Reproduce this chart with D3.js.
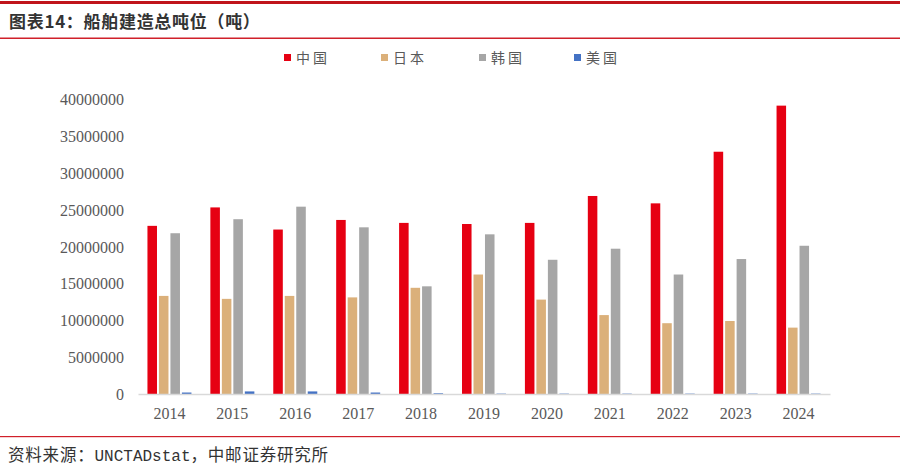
<!DOCTYPE html>
<html><head><meta charset="utf-8">
<script src="https://cdn.jsdelivr.net/npm/d3@7"></script>
<style>body{margin:0;background:#fff;}svg{display:block;}</style>
</head><body>
<svg id="chart" width="900" height="472"></svg>
<script>
const years = ["2014","2015","2016","2017","2018","2019","2020","2021","2022","2023","2024"];
const seriesNames = ["中国","日本","韩国","美国"];
const china = [22800000,25300000,22300000,23600000,23200000,23050000,23200000,26850000,25850000,32850000,39100000];
const japan = [13300000,12900000,13300000,13100000,14400000,16200000,12800000,10700000,9600000,9900000,9000000];
const korea = [21800000,23700000,25400000,22600000,14600000,21650000,18200000,19700000,16200000,18300000,20100000];
const usa = [200000,350000,350000,200000,100000,50000,50000,50000,50000,50000,50000];
const yTicks = [0,5000000,10000000,15000000,20000000,25000000,30000000,35000000,40000000];
const colors = ["#e60012","#dbb07a","#a6a6a6","#4472c4"];
const titleText = "图表14：船舶建造总吨位（吨）";
const sourceParts = [["资料来源：","cjk"],["UNCTADstat","mono"],["，中邮证券研究所","cjk"]];

const allSeries = [china, japan, korea, usa];
const svg = d3.select("#chart");

// header / footer rules
svg.append("rect").attr("x",0).attr("y",1).attr("width",900).attr("height",3).attr("fill","#c0141b");
svg.append("rect").attr("x",0).attr("y",37.5).attr("width",900).attr("height",1.5).attr("fill","#d0202a");
svg.append("rect").attr("x",0).attr("y",436).attr("width",900).attr("height",1.2).attr("fill","#d0202a");

svg.append("text").attr("x",9).attr("y",28).attr("font-family","'Noto Sans CJK SC'")
  .attr("font-size",17).attr("letter-spacing","0.7px").attr("font-weight","bold").attr("fill","#333").text(titleText);
const src = svg.append("text").attr("x",8).attr("y",461).attr("fill","#333");
src.selectAll("tspan").data(sourceParts).join("tspan")
  .attr("font-family", d => d[1]==="mono" ? "'Liberation Mono'" : "'Noto Sans CJK SC'")
  .attr("font-size", d => d[1]==="mono" ? 16 : 16.5)
  .attr("letter-spacing", d => d[1]==="mono" ? "0px" : "0.8px")
  .text(d => d[0]);

const x0 = d3.scaleBand().domain(years).range([138,830]).padding(0);
const x1 = d3.scaleBand().domain(seriesNames).range([0,44]).paddingInner(0.17).paddingOuter(0);
const y = d3.scaleLinear().domain([0,40000000]).range([394,99]);

// y axis labels
const yAxis = d3.axisLeft(y).tickValues(yTicks).tickSize(0).tickPadding(0).tickFormat(d3.format("d"));
const gy = svg.append("g").attr("transform","translate(124,0)").call(yAxis);
gy.select(".domain").remove();
gy.selectAll("text").attr("font-family","'Liberation Serif'").attr("font-size",16).attr("fill","#595959").attr("dy","0.35em");

// bars
const groups = svg.append("g").selectAll("g").data(years).join("g")
  .attr("transform", d => `translate(${x0(d) + x0.bandwidth()/2 - 22},0)`);
groups.selectAll("rect").data((d,i) => seriesNames.map((s,j) => ({s, v: allSeries[j][i], c: colors[j]})))
  .join("rect")
  .attr("x", d => x1(d.s)).attr("width", x1.bandwidth())
  .attr("y", d => y(d.v)).attr("height", d => y(0) - y(d.v))
  .attr("fill", d => d.c);

// x axis
const xAxis = d3.axisBottom(x0).tickSize(0).tickPadding(0);
const gx = svg.append("g").attr("transform","translate(0,394)").call(xAxis);
gx.select(".domain").attr("stroke","#d9d9d9").attr("stroke-width",1.5);
gx.selectAll("text").attr("font-family","'Liberation Serif'").attr("font-size",16).attr("fill","#595959").attr("dy","1.55em");

// legend
const legendX = [284,381,479,574];
const lg = svg.append("g").selectAll("g").data(seriesNames).join("g")
  .attr("transform",(d,i)=>`translate(${legendX[i]},0)`);
lg.append("rect").attr("x",0).attr("y",54).attr("width",7).attr("height",7).attr("fill",(d,i)=>colors[i]);
lg.append("text").attr("x",12).attr("y",63).attr("font-family","'Noto Sans CJK SC'").attr("font-size",14)
  .attr("letter-spacing","3px").attr("fill","#595959").text(d=>d);
</script>
</body></html>
